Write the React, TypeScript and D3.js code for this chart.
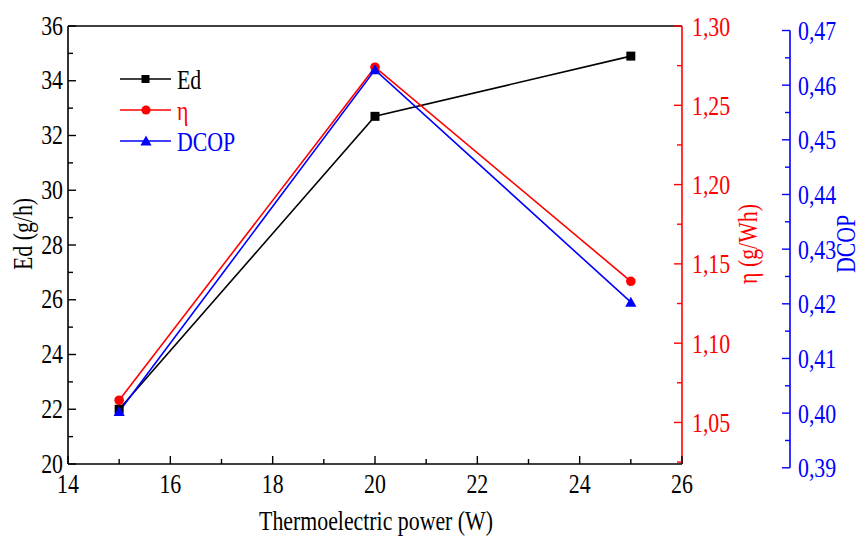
import React from "react";
import * as d3 from "d3";

const power = [15, 20, 25];
const edValues = [22.0, 32.7, 34.9];
const etaValues = [1.064, 1.274, 1.139];
const dcopValues = [0.4003, 0.4628, 0.4203];

const xTicks = [14, 16, 18, 20, 22, 24, 26];
const edTicks = [20, 22, 24, 26, 28, 30, 32, 34, 36];
const etaTicks = [1.05, 1.1, 1.15, 1.2, 1.25, 1.3];
const dcopTicks = [0.39, 0.4, 0.41, 0.42, 0.43, 0.44, 0.45, 0.46, 0.47];

const legendNames = ["Ed", "η", "DCOP"];

const FONT = "Liberation Serif, DejaVu Serif, serif";
const FS = 28;
const SX = 0.78;

const T = ({ x, y, rot = 0, anchor = "start", fill = "#000", children }: any) => (
  <g transform={`translate(${x},${y}) rotate(${rot}) scale(${SX},1)`}>
    <text x={0} y={0} textAnchor={anchor} fill={fill} fontSize={FS} fontFamily={FONT} style={{ fontFamily: FONT }}>
      {children}
    </text>
  </g>
);

export default function App() {
  const left = 68, right = 682, top = 26, bottom = 464;
  const x = d3.scaleLinear().domain([14, 26]).range([left, right]);
  const yEd = d3.scaleLinear().domain([20, 36]).range([bottom, top]);
  const yEta = d3.scaleLinear().domain([1.0238, 1.3]).range([bottom, top]);
  const dTop = 30.5, dBottom = 467.8;
  const yDcop = d3.scaleLinear().domain([0.39, 0.47]).range([dBottom, dTop]);
  const blueX = 790;
  const base = 9.5;

  const comma = (v: number) => v.toFixed(2).replace(".", ",");

  const lineGen = (ys: d3.ScaleLinear<number, number>, vals: number[]) =>
    d3.line<number>().x((_, i) => x(power[i])).y((v) => ys(v))(vals) || "";

  const minorX = d3.range(14, 26.01, 1).filter((v) => v % 2 !== 0);
  const minorEd = d3.range(21, 36, 2);
  const minorEta = [1.025, 1.075, 1.125, 1.175, 1.225, 1.275];
  const minorDcop = [0.395, 0.405, 0.415, 0.425, 0.435, 0.445, 0.455, 0.465];

  const triangle = (cx: number, cy: number) =>
    `M${cx},${cy - 5.5} L${cx + 5.6},${cy + 4.5} L${cx - 5.6},${cy + 4.5} Z`;

  const colors = ["#000000", "#ff0000", "#0000ff"];
  const legendY = [79, 110, 141];

  return (
    <svg width={861} height={540} style={{ position: "absolute", left: 0, top: 0, background: "#fff" }}>
      {/* frame */}
      <line x1={left} x2={right} y1={top} y2={top} stroke="#000" strokeWidth={1.6} />
      <line x1={left} x2={left} y1={top} y2={bottom} stroke="#000" strokeWidth={1.6} />
      <line x1={left} x2={right} y1={bottom} y2={bottom} stroke="#000" strokeWidth={1.6} />
      <line x1={right} x2={right} y1={top} y2={bottom} stroke="#ff0000" strokeWidth={1.6} />

      {/* x axis ticks */}
      {xTicks.map((t) => (
        <g key={"xt" + t}>
          <line x1={x(t)} x2={x(t)} y1={bottom} y2={bottom - 8} stroke="#000" strokeWidth={1.4} />
          <T x={x(t)} y={493} anchor="middle">{t}</T>
        </g>
      ))}
      {minorX.map((t) => (
        <line key={"xm" + t} x1={x(t)} x2={x(t)} y1={bottom} y2={bottom - 5} stroke="#000" strokeWidth={1.4} />
      ))}

      {/* left axis */}
      {edTicks.map((t) => (
        <g key={"et" + t}>
          <line x1={left} x2={left + 8} y1={yEd(t)} y2={yEd(t)} stroke="#000" strokeWidth={1.4} />
          <T x={63} y={yEd(t) + base - 1} anchor="end">{t}</T>
        </g>
      ))}
      {minorEd.map((t) => (
        <line key={"em" + t} x1={left} x2={left + 5} y1={yEd(t)} y2={yEd(t)} stroke="#000" strokeWidth={1.4} />
      ))}

      {/* red axis */}
      {etaTicks.map((t) => (
        <g key={"rt" + t}>
          <line x1={right} x2={right - 8} y1={yEta(t)} y2={yEta(t)} stroke="#ff0000" strokeWidth={1.4} />
          <T x={692} y={yEta(t) + base} fill="#ff0000">{comma(t)}</T>
        </g>
      ))}
      {minorEta.map((t) => (
        <line key={"rm" + t} x1={right} x2={right - 5} y1={yEta(t)} y2={yEta(t)} stroke="#ff0000" strokeWidth={1.4} />
      ))}

      {/* blue axis */}
      <line x1={blueX} x2={blueX} y1={dTop} y2={dBottom} stroke="#0000ff" strokeWidth={1.6} />
      {dcopTicks.map((t) => (
        <g key={"bt" + t}>
          <line x1={blueX} x2={blueX - 8} y1={yDcop(t)} y2={yDcop(t)} stroke="#0000ff" strokeWidth={1.4} />
          <T x={798} y={yDcop(t) + base} fill="#0000ff">{comma(t)}</T>
        </g>
      ))}
      {minorDcop.map((t) => (
        <line key={"bm" + t} x1={blueX} x2={blueX - 5} y1={yDcop(t)} y2={yDcop(t)} stroke="#0000ff" strokeWidth={1.4} />
      ))}

      {/* axis titles */}
      <T x={376} y={530} anchor="middle">Thermoelectric power (W)</T>
      <T x={32} y={234} rot={-90} anchor="middle">Ed (g/h)</T>
      <T x={757} y={244} rot={-90} anchor="middle" fill="#ff0000">η (g/Wh)</T>
      <T x={855} y={244} rot={-90} anchor="middle" fill="#0000ff">DCOP</T>

      {/* series lines */}
      <path d={lineGen(yEd, edValues)} fill="none" stroke="#000" strokeWidth={1.6} />
      <path d={lineGen(yEta, etaValues)} fill="none" stroke="#ff0000" strokeWidth={1.6} />
      <path d={lineGen(yDcop, dcopValues)} fill="none" stroke="#0000ff" strokeWidth={1.6} />

      {/* markers */}
      {edValues.map((v, i) => (
        <rect key={"ms" + i} x={x(power[i]) - 4.5} y={yEd(v) - 4.5} width={9} height={9} fill="#000" />
      ))}
      {etaValues.map((v, i) => (
        <circle key={"mc" + i} cx={x(power[i])} cy={yEta(v)} r={4.8} fill="#ff0000" />
      ))}
      {dcopValues.map((v, i) => (
        <path key={"mt" + i} d={triangle(x(power[i]), yDcop(v))} fill="#0000ff" />
      ))}

      {/* legend */}
      {legendNames.map((n, i) => (
        <g key={"lg" + n}>
          <line x1={120} x2={171} y1={legendY[i]} y2={legendY[i]} stroke={colors[i]} strokeWidth={1.6} />
          {i === 0 && <rect x={141.5} y={legendY[i] - 4} width={8} height={8} fill="#000" />}
          {i === 1 && <circle cx={146} cy={legendY[i]} r={4.6} fill="#ff0000" />}
          {i === 2 && <path d={triangle(146, legendY[i])} fill="#0000ff" />}
          <T x={177} y={legendY[i] + base} fill={colors[i]}>{n}</T>
        </g>
      ))}
    </svg>
  );
}
